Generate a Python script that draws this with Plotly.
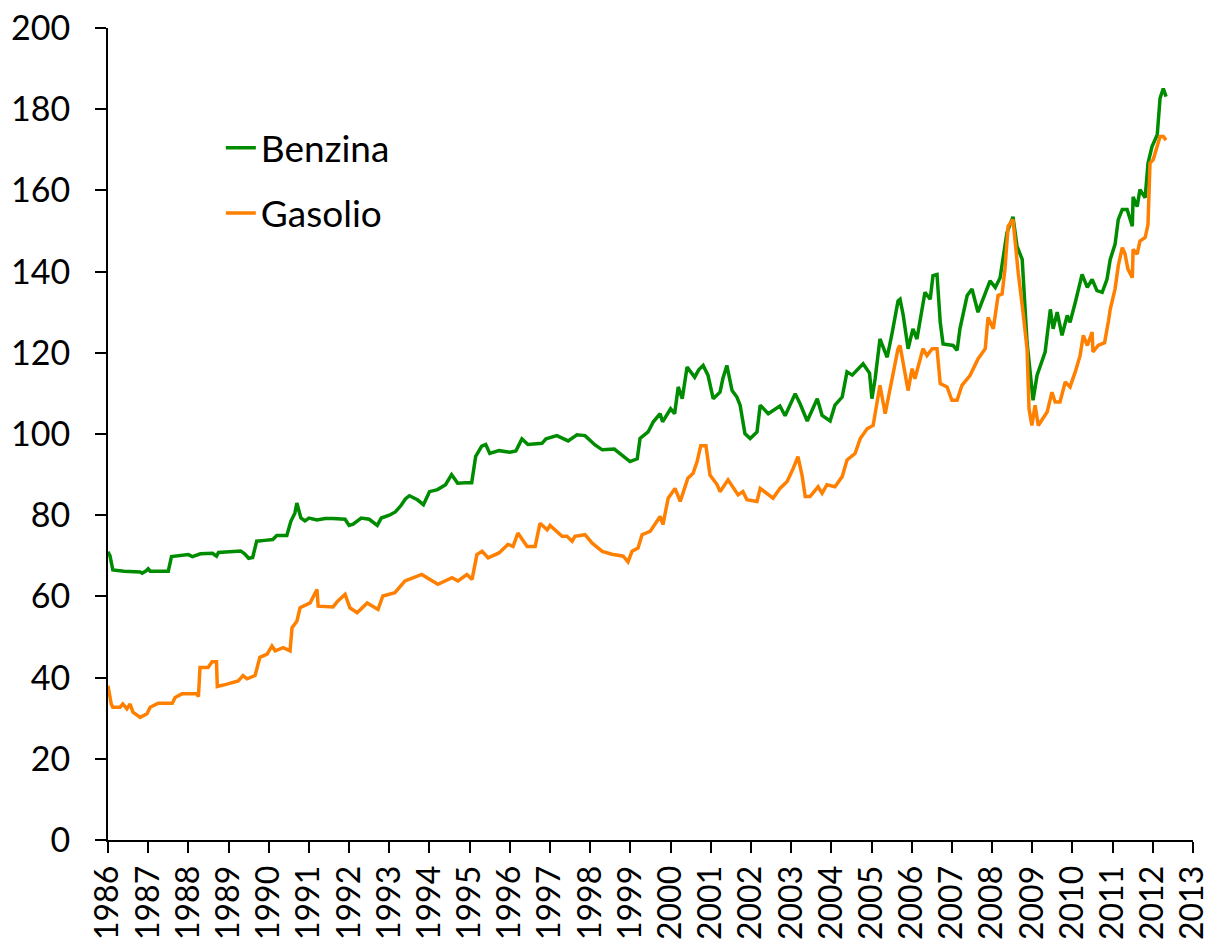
import plotly.graph_objects as go

# ---- data ----
benzina_x = [1986.00, 1986.05, 1986.12, 1986.40, 1986.80, 1986.85, 1986.95, 1987.00, 1987.05, 1987.50,
             1987.58, 1987.80, 1988.00, 1988.10, 1988.30, 1988.60, 1988.70, 1988.75, 1989.00, 1989.30,
             1989.40, 1989.50, 1989.60, 1989.70, 1989.90, 1990.10, 1990.20, 1990.45, 1990.55, 1990.65,
             1990.70, 1990.75, 1990.80, 1990.90, 1991.00, 1991.20, 1991.40, 1991.60, 1991.90, 1992.00,
             1992.10, 1992.30, 1992.50, 1992.70, 1992.80, 1993.00, 1993.15, 1993.30, 1993.40, 1993.50,
             1993.70, 1993.85, 1994.00, 1994.20, 1994.40, 1994.55, 1994.70, 1994.90, 1995.05, 1995.15,
             1995.30, 1995.40, 1995.50, 1995.73, 1996.00, 1996.15, 1996.30, 1996.45, 1996.80, 1996.90,
             1997.17, 1997.45, 1997.67, 1997.87, 1998.12, 1998.30, 1998.60, 1998.99, 1999.17, 1999.24,
             1999.44, 1999.57, 1999.74, 1999.80, 2000.00, 2000.10, 2000.19, 2000.29, 2000.41, 2000.60,
             2000.70, 2000.81, 2000.93, 2001.06, 2001.23, 2001.30, 2001.40, 2001.53, 2001.65, 2001.73,
             2001.85, 2001.98, 2002.15, 2002.23, 2002.43, 2002.72, 2002.85, 2003.10, 2003.22, 2003.40,
             2003.65, 2003.77, 2003.97, 2004.09, 2004.27, 2004.39, 2004.52, 2004.79, 2004.95, 2005.01,
             2005.09, 2005.21, 2005.39, 2005.51, 2005.66, 2005.71, 2005.79, 2005.91, 2006.03, 2006.13,
             2006.33, 2006.46, 2006.53, 2006.63, 2006.71, 2006.78, 2007.03, 2007.13, 2007.20, 2007.38,
             2007.50, 2007.65, 2007.83, 2007.95, 2008.08, 2008.20, 2008.37, 2008.52, 2008.62, 2008.75,
             2008.87, 2008.95, 2009.02, 2009.12, 2009.32, 2009.45, 2009.52, 2009.62, 2009.74, 2009.87,
             2009.94, 2010.07, 2010.24, 2010.37, 2010.49, 2010.61, 2010.74, 2010.86, 2010.94, 2011.06,
             2011.14, 2011.24, 2011.36, 2011.49, 2011.51, 2011.61, 2011.68, 2011.81, 2011.88, 2011.98,
             2012.11, 2012.18, 2012.26, 2012.33]
benzina_y = [71.0, 70.0, 66.5, 66.2, 66.0, 65.7, 66.3, 66.8, 66.2, 66.2,
             69.8, 70.0, 70.3, 69.8, 70.5, 70.6, 69.9, 70.8, 71.0, 71.2,
             70.5, 69.4, 69.6, 73.6, 73.8, 74.0, 75.0, 75.0, 78.5, 80.5,
             83.0, 81.0, 79.3, 78.6, 79.3, 78.8, 79.2, 79.2, 79.0, 77.5,
             77.8, 79.3, 79.0, 77.5, 79.3, 80.0, 80.8, 82.5, 84.0, 84.8,
             83.8, 82.6, 85.8, 86.3, 87.5, 90.0, 87.9, 88.0, 88.0, 94.5,
             97.0, 97.4, 95.2, 95.9, 95.5, 95.8, 98.8, 97.4, 97.7, 98.8,
             99.6, 98.3, 99.8, 99.6, 97.3, 96.1, 96.3, 93.2, 93.9, 98.9,
             100.5, 103.0, 105.0, 103.0, 106.2, 105.0, 111.6, 108.7, 116.5, 114.0,
             115.8, 116.9, 114.5, 108.7, 110.3, 113.6, 116.9, 110.7, 109.1, 107.1,
             100.1, 98.9, 100.5, 107.1, 105.0, 106.9, 104.5, 109.9, 107.5, 103.2,
             108.7, 104.6, 103.2, 107.1, 109.1, 115.3, 114.5, 117.3, 115.0, 108.7,
             113.6, 123.4, 118.9, 124.7, 132.8, 133.2, 129.2, 121.0, 125.9, 123.4,
             134.9, 133.2, 139.0, 139.3, 127.5, 122.2, 121.8, 120.6, 125.9, 134.1,
             135.7, 130.0, 134.9, 137.7, 136.1, 138.5, 149.6, 153.5, 146.3, 143.0,
             122.6, 114.5, 108.3, 114.5, 120.2, 130.7, 125.9, 130.0, 124.3, 129.2,
             127.5, 132.4, 139.3, 136.1, 138.1, 135.3, 134.9, 138.1, 143.0, 146.7,
             152.8, 155.3, 155.3, 151.2, 158.4, 156.0, 160.2, 158.2, 166.7, 170.8,
             173.7, 182.7, 185.1, 183.1]

gasolio_x = [1986.00, 1986.08, 1986.12, 1986.30, 1986.37, 1986.47, 1986.55, 1986.62, 1986.80, 1986.97,
             1987.05, 1987.25, 1987.60, 1987.67, 1987.84, 1988.21, 1988.25, 1988.29, 1988.49, 1988.59,
             1988.70, 1988.72, 1988.96, 1989.24, 1989.36, 1989.46, 1989.66, 1989.78, 1989.96, 1990.08,
             1990.16, 1990.36, 1990.53, 1990.58, 1990.70, 1990.78, 1991.03, 1991.20, 1991.23, 1991.60,
             1991.72, 1991.90, 1992.02, 1992.20, 1992.45, 1992.72, 1992.84, 1993.14, 1993.39, 1993.60,
             1993.81, 1993.94, 1994.21, 1994.56, 1994.71, 1994.93, 1995.06, 1995.18, 1995.31, 1995.46,
             1995.73, 1995.95, 1996.08, 1996.20, 1996.43, 1996.63, 1996.75, 1996.93, 1997.00, 1997.30,
             1997.42, 1997.55, 1997.62, 1997.87, 1998.05, 1998.30, 1998.54, 1998.82, 1998.94, 1999.04,
             1999.19, 1999.29, 1999.49, 1999.74, 1999.81, 1999.94, 2000.11, 2000.24, 2000.43, 2000.56,
             2000.66, 2000.75, 2000.88, 2000.98, 2001.16, 2001.23, 2001.43, 2001.68, 2001.80, 2001.90,
             2002.15, 2002.23, 2002.40, 2002.55, 2002.72, 2002.90, 2003.05, 2003.17, 2003.27, 2003.35,
             2003.47, 2003.67, 2003.77, 2003.89, 2004.09, 2004.27, 2004.39, 2004.59, 2004.72, 2004.89,
             2005.04, 2005.14, 2005.21, 2005.34, 2005.51, 2005.66, 2005.71, 2005.84, 2005.91, 2006.01,
             2006.08, 2006.28, 2006.38, 2006.51, 2006.63, 2006.71, 2006.88, 2007.00, 2007.13, 2007.25,
             2007.45, 2007.65, 2007.83, 2007.90, 2008.03, 2008.15, 2008.25, 2008.32, 2008.40, 2008.52,
             2008.57, 2008.65, 2008.77, 2008.87, 2008.92, 2008.99, 2009.07, 2009.15, 2009.37, 2009.49,
             2009.57, 2009.69, 2009.82, 2009.94, 2010.07, 2010.19, 2010.27, 2010.37, 2010.49, 2010.51,
             2010.64, 2010.80, 2010.90, 2010.94, 2011.06, 2011.14, 2011.24, 2011.31, 2011.38, 2011.49,
             2011.51, 2011.61, 2011.68, 2011.81, 2011.88, 2011.93, 2012.01, 2012.06, 2012.18, 2012.26,
             2012.33]
gasolio_y = [38.0, 33.5, 32.7, 32.7, 33.5, 32.3, 33.5, 31.5, 30.2, 31.1,
             32.7, 33.7, 33.7, 35.1, 36.0, 36.0, 35.3, 42.5, 42.5, 43.9,
             43.9, 37.8, 38.4, 39.2, 40.5, 39.7, 40.5, 45.0, 45.8, 47.8,
             46.6, 47.4, 46.6, 52.3, 53.9, 57.2, 58.4, 61.7, 57.6, 57.4,
             58.9, 60.5, 57.2, 56.0, 58.4, 56.8, 60.1, 60.9, 63.8, 64.5,
             65.4, 64.6, 63.0, 64.6, 63.8, 65.4, 64.2, 70.3, 71.1, 69.5,
             70.7, 72.8, 72.3, 75.6, 72.3, 72.3, 78.0, 76.4, 77.5, 74.8,
             74.8, 73.6, 74.8, 75.2, 73.1, 71.1, 70.4, 69.9, 68.5, 71.1,
             71.9, 75.2, 76.0, 79.7, 77.7, 84.2, 86.6, 83.4, 89.1, 90.3,
             93.2, 97.1, 97.1, 89.9, 87.5, 85.8, 88.7, 85.0, 85.8, 83.8,
             83.4, 86.6, 85.4, 84.2, 86.6, 88.3, 91.5, 94.4, 89.9, 84.6,
             84.6, 87.0, 85.4, 87.5, 87.0, 89.5, 93.6, 95.2, 98.9, 101.3,
             102.1, 108.7, 112.0, 105.0, 113.6, 121.0, 121.8, 114.4, 110.7, 116.1,
             113.6, 121.0, 119.3, 121.0, 121.0, 112.4, 111.6, 108.3, 108.3, 112.0,
             114.4, 118.5, 121.0, 128.7, 125.9, 134.1, 134.5, 140.6, 151.2, 152.8,
             147.1, 139.8, 130.0, 121.0, 106.2, 102.1, 107.1, 102.1, 105.4, 110.3,
             107.9, 107.9, 112.8, 111.6, 115.3, 119.3, 124.3, 121.8, 125.1, 120.2,
             121.8, 122.5, 128.0, 130.7, 135.7, 141.4, 145.9, 144.3, 140.6, 138.5,
             145.5, 144.3, 147.5, 148.4, 151.6, 166.7, 167.6, 169.2, 173.3, 173.3,
             172.4]

year_ticks = list(range(1986, 2014))
y_ticks = list(range(0, 201, 20))

FONT = "Lato, 'Open Sans', sans-serif"

fig = go.Figure()
fig.add_trace(go.Scatter(x=benzina_x, y=benzina_y, mode="lines", name="Benzina",
                         line=dict(color="#008C00", width=3.5), legendgroup="a"))
fig.add_trace(go.Scatter(x=gasolio_x, y=gasolio_y, mode="lines", name="Gasolio",
                         line=dict(color="#FF8000", width=3.5), legendgroup="b"))

fig.update_layout(
    width=1207, height=940,
    margin=dict(l=100, r=22, t=20, b=108),
    paper_bgcolor="white", plot_bgcolor="white",
    font=dict(family=FONT, size=34, color="black"),
    showlegend=True,
    legend=dict(x=0.104, y=0.89, xanchor="left", yanchor="top",
                bgcolor="rgba(0,0,0,0)", font=dict(size=37, color="black"),
                tracegroupgap=14, itemwidth=30),
)
fig.update_xaxes(range=[1986, 2013], tickmode="array", tickvals=year_ticks,
                 ticktext=[str(v) for v in year_ticks], tickangle=-90,
                 ticks="outside", ticklen=11, tickwidth=2, tickcolor="black",
                 showline=True, linecolor="black", linewidth=2, showgrid=False,
                 zeroline=False, automargin=False, tickfont=dict(size=32),
                 ticklabeloverflow="allow")
fig.update_yaxes(range=[0, 200], tickmode="array", tickvals=y_ticks,
                 ticktext=[str(v) for v in y_ticks],
                 ticks="outside", ticklen=11, tickwidth=2, tickcolor="black",
                 showline=True, linecolor="black", linewidth=2, showgrid=False,
                 zeroline=False, automargin=False, tickfont=dict(size=34),
                 ticklabelstandoff=18, ticklabeloverflow="allow")

fig.write_html("out.html")
